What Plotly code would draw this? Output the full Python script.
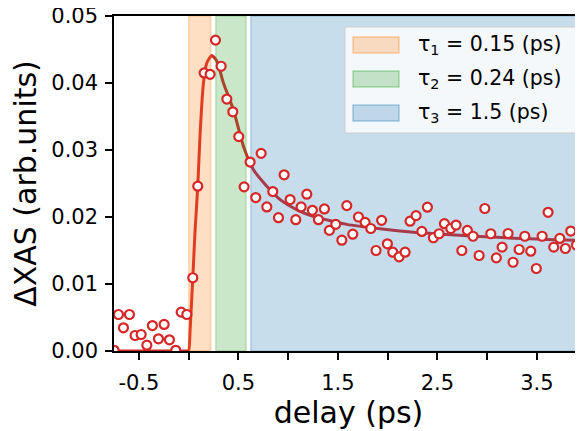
import plotly.graph_objects as go

# ---------------- data ----------------
delay = [-0.749, -0.705, -0.655, -0.595, -0.538, -0.477, -0.42, -0.364, -0.303, -0.246,
         -0.193, -0.129, -0.075, -0.018, 0.042, 0.092, 0.156, 0.216, 0.27, 0.327,
         0.384, 0.444, 0.504, 0.558, 0.618, 0.675, 0.729, 0.786, 0.846, 0.903,
         0.960, 1.02, 1.077, 1.131, 1.188, 1.244, 1.305, 1.365, 1.415, 1.479,
         1.54, 1.59, 1.65, 1.707, 1.774, 1.831, 1.884, 1.94, 1.998, 2.052,
         2.116, 2.176, 2.226, 2.286, 2.344, 2.4, 2.46, 2.518, 2.571, 2.635,
         2.688, 2.746, 2.802, 2.859, 2.92, 2.977, 3.037, 3.093, 3.151, 3.211,
         3.261, 3.322, 3.379, 3.439, 3.495, 3.553, 3.613, 3.670, 3.731, 3.787,
         3.841, 3.898, 3.955]
dxas = [0.0001, 0.00545, 0.00346, 0.00545, 0.00231, 0.00246, 0.00087, 0.0038, 0.00182, 0.00396,
        0.00167, 0.0001, 0.0058, 0.00545, 0.01093, 0.0246, 0.0415, 0.0413, 0.0464, 0.0425,
        0.0376, 0.0357, 0.0320, 0.0245, 0.0282, 0.0229, 0.0295, 0.0215, 0.0238, 0.0199,
        0.0263, 0.0226, 0.0196, 0.0215, 0.0234, 0.0210, 0.0196, 0.0212, 0.0180, 0.0189,
        0.01654, 0.0217, 0.01743, 0.0200, 0.0192, 0.01828, 0.0150, 0.0195, 0.0160, 0.01475,
        0.01406, 0.01475, 0.01937, 0.0202, 0.01784, 0.02146, 0.0169, 0.0175, 0.0190, 0.01828,
        0.0188, 0.0150, 0.0180, 0.01713, 0.01425, 0.02127, 0.0175, 0.0139, 0.0155, 0.01754,
        0.01325, 0.01515, 0.01713, 0.0149, 0.01231, 0.01713, 0.0207, 0.0155, 0.0168, 0.0153,
        0.0179, 0.0158, 0.01764]

fit_delay = [-0.75, -0.02, 0.0, 0.015, 0.042, 0.065, 0.092, 0.116, 0.149, 0.183,
             0.233, 0.283, 0.35, 0.45, 0.55, 0.65, 0.786, 0.92, 1.1, 1.25,
             1.59, 1.925, 2.26, 2.595, 2.93, 3.264, 3.6, 3.965]
fit_dxas = [0.0, 0.0, 0.0, 0.0032, 0.0109, 0.018, 0.0246, 0.0326, 0.0400, 0.0430,
            0.0441, 0.0433, 0.0400, 0.0360, 0.0306, 0.0271, 0.0246, 0.0226, 0.0210, 0.0201,
            0.0189, 0.01824, 0.01773, 0.01739, 0.01709, 0.01684, 0.01664, 0.01649]

span_labels = ["τ<sub>1</sub> = 0.15 (ps)", "τ<sub>2</sub> = 0.24 (ps)", "τ<sub>3</sub> = 1.5 (ps)"]
span_start = [0.0, 0.273, 0.625]
span_end = [0.223, 0.578, 4.3]
span_rgb = ["255,127,14", "44,160,44", "31,119,180"]

x_range = [-0.75, 3.964]
y_range = [0.0, 0.05]
x_tickvals = [-0.5, 0.0, 0.5, 1.0, 1.5, 2.0, 2.5, 3.0, 3.5, 4.0]
x_ticktext = ["-0.5", "", "0.5", "", "1.5", "", "2.5", "", "3.5", ""]
y_tickvals = [0.0, 0.01, 0.02, 0.03, 0.04, 0.05]

# ---------------- figure ----------------
OFF = 8                      # page body margin offset
W, H = 583 - OFF, 431 - OFF
ML, MR, MT = 114 - OFF, 0, 16 - OFF
MB = H - MT - 335
FONT = "DejaVu Sans"
RED = "#d62728"

fig = go.Figure()

# fit line (drawn beneath the shaded spans)
fig.add_trace(go.Scatter(x=fit_delay, y=fit_dxas, mode="lines",
                         line=dict(color=RED, width=3, shape="spline", smoothing=0.6),
                         showlegend=False, hoverinfo="skip"))

# shaded spans
for s, e, c in zip(span_start, span_end, span_rgb):
    fig.add_trace(go.Scatter(x=[s, s, e, e, s], y=[y_range[0], y_range[1], y_range[1], y_range[0], y_range[0]],
                             mode="lines", fill="toself",
                             fillcolor=f"rgba({c},0.25)",
                             line=dict(color=f"rgba({c},0.25)", width=1.5),
                             showlegend=False, hoverinfo="skip"))

# data markers
fig.add_trace(go.Scatter(x=delay, y=dxas, mode="markers",
                         marker=dict(size=9, color="white", line=dict(color=RED, width=2.2)),
                         showlegend=False))

# manual legend (window pixel -> paper coords)
pw = W - ML - MR
ph = H - MT - MB
def px(xp):
    return (xp - OFF - ML) / pw
def py(yp):
    return (H - MB - (yp - OFF)) / ph

shapes = [dict(type="rect", xref="paper", yref="paper",
               x0=px(345), x1=px(576), y0=py(133), y1=py(27),
               fillcolor="rgba(255,255,255,0.8)", line=dict(color="#cccccc", width=1),
               layer="above")]
annotations = []
row_y = [45, 79, 113]
for lab, c, ry in zip(span_labels, span_rgb, row_y):
    shapes.append(dict(type="rect", xref="paper", yref="paper",
                       x0=px(353), x1=px(399), y0=py(ry + 8), y1=py(ry - 8),
                       fillcolor=f"rgba({c},0.25)", line=dict(color=f"rgba({c},0.35)", width=1.5),
                       layer="above"))
    annotations.append(dict(text=lab, xref="paper", yref="paper", x=px(416), y=py(ry),
                            xanchor="left", yanchor="middle", showarrow=False,
                            font=dict(family=FONT, size=20.5, color="black")))

fig.update_layout(
    template="none",
    width=W, height=H,
    margin=dict(l=ML, r=MR, t=MT, b=MB, autoexpand=False),
    paper_bgcolor="white", plot_bgcolor="white",
    font=dict(family=FONT, color="black"),
    shapes=shapes, annotations=annotations,
    showlegend=False,
)
fig.update_xaxes(range=x_range, tickvals=x_tickvals, ticktext=x_ticktext, automargin=False,
                 showgrid=False, zeroline=False,
                 showline=True, linecolor="black", linewidth=1.5, mirror=True,
                 ticks="outside", ticklen=7, tickwidth=1.5, tickcolor="black",
                 ticklabelstandoff=5, ticklabeloverflow="allow",
                 tickfont=dict(family=FONT, size=21, color="black"),
                 title=dict(text="delay (ps)", font=dict(family=FONT, size=30, color="black"), standoff=6))
fig.update_yaxes(range=y_range, tickvals=y_tickvals, tickformat=".2f", automargin=False,
                 showgrid=False, zeroline=False,
                 showline=True, linecolor="black", linewidth=1.5, mirror=False,
                 ticks="outside", ticklen=7, tickwidth=1.5, tickcolor="black",
                 ticklabelstandoff=3, ticklabeloverflow="allow",
                 tickfont=dict(family=FONT, size=21, color="black"),
                 title=dict(text="ΔXAS (arb.units)", font=dict(family=FONT, size=30, color="black"), standoff=6))

fig.write_html("out.html")
